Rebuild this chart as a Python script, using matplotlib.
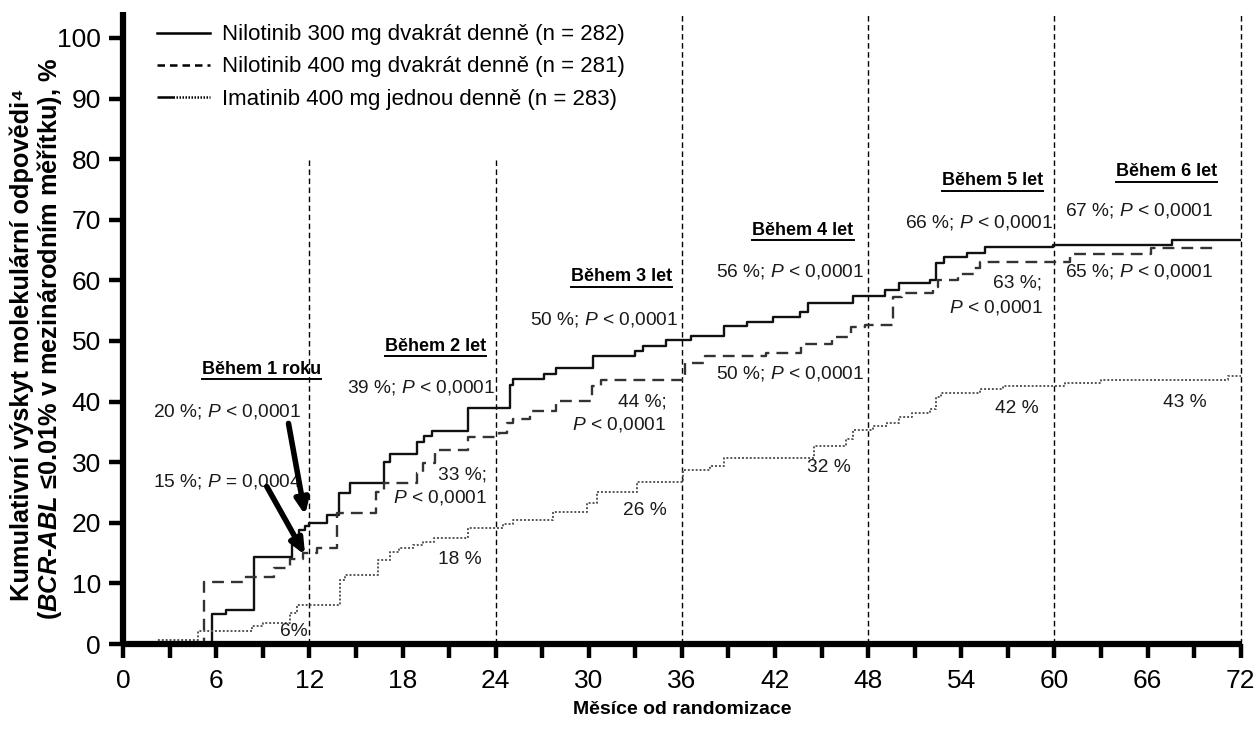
import matplotlib
matplotlib.use("Agg")
import matplotlib.pyplot as plt
from matplotlib import font_manager
from matplotlib.lines import Line2D

# ── DATA ───────────────────────────────────────────────────
# Nilotinib 300 mg dvakrát denně (kumulativní výskyt, %)
nil300_mesice = [0, 5.7, 6.6, 8.45, 10.9, 11.3, 11.7, 12.0, 13.1, 13.9, 14.6,
                 16.8, 17.2, 18.9, 19.4, 19.9, 22.2, 24.9, 25.1, 27.1, 27.9,
                 30.3, 33.0, 33.5, 35.0, 36.6, 38.7, 40.2, 41.9, 43.6, 44.1,
                 47.0, 49.1, 50.0, 52.0, 52.4, 52.9, 54.4, 55.5, 59.9, 67.6, 72]
nil300_pct = [0, 5.0, 5.7, 14.3, 16.9, 18.8, 19.4, 19.9, 21.3, 24.9, 26.5,
              30.1, 31.4, 33.3, 34.4, 35.2, 38.9, 42.7, 43.8, 44.6, 45.5,
              47.5, 48.4, 49.2, 50.2, 50.8, 52.5, 53.2, 54.0, 54.8, 56.2,
              57.4, 58.4, 59.5, 60.1, 62.9, 63.8, 64.5, 65.5, 65.8, 66.6, 66.6]

# Nilotinib 400 mg dvakrát denně
nil400_mesice = [0, 5.2, 7.75, 9.7, 10.75, 11.6, 12.5, 13.75, 16.3, 16.8,
                 18.9, 19.3, 20.1, 22.2, 24.2, 24.75, 25.1, 26.2, 27.9, 30.2,
                 30.8, 36.2, 37.5, 41.4, 43.7, 45.7, 46.9, 47.8, 49.6, 50.2,
                 52.2, 52.5, 53.8, 54.8, 55.2, 61.0, 66.2, 70.2]
nil400_pct = [0, 10.3, 11.1, 12.5, 14.1, 15.0, 15.8, 21.6, 25.1, 26.5,
              28.2, 29.8, 32.0, 34.1, 34.8, 36.4, 37.2, 38.4, 40.1, 42.5,
              43.6, 46.3, 47.5, 48.1, 49.5, 50.7, 52.3, 52.6, 57.3, 57.9,
              58.9, 60.1, 61.1, 62.0, 63.1, 64.4, 65.3, 65.3]

# Imatinib 400 mg jednou denně
ima_mesice = [0, 2.2, 4.85, 8.3, 9.0, 10.75, 11.2, 14.0, 14.3, 16.4, 17.2,
              17.8, 18.7, 19.3, 20.0, 22.2, 24.5, 25.1, 27.7, 29.9, 30.5,
              33.1, 36.1, 37.8, 38.7, 44.5, 46.6, 47.0, 48.3, 49.2, 50.0,
              50.8, 52.0, 52.4, 52.7, 55.2, 56.7, 60.7, 63.0, 71.2, 72]
ima_pct = [0, 0.6, 2.2, 2.9, 3.4, 5.1, 6.4, 10.6, 11.4, 13.9, 15.2,
           15.8, 16.3, 16.9, 17.5, 19.1, 19.8, 20.5, 21.8, 23.2, 25.1,
           26.8, 28.7, 29.3, 30.7, 32.6, 33.8, 35.3, 35.9, 36.4, 37.5,
           38.1, 38.7, 40.8, 41.5, 42.0, 42.5, 43.1, 43.6, 44.2, 44.2]

legenda = ["Nilotinib 300 mg dvakrát denně (n = 282)",
           "Nilotinib 400 mg dvakrát denně (n = 281)",
           "Imatinib 400 mg jednou denně (n = 283)"]

hranice_let = [12, 24, 36, 48, 60, 72]
nadpisy_let = ["Během 1 roku", "Během 2 let", "Během 3 let",
               "Během 4 let", "Během 5 let", "Během 6 let"]
# ───────────────────────────────────────────────────────────

plt.rcParams['font.family'] = ['Liberation Sans', 'DejaVu Sans']
plt.rcParams['mathtext.fontset'] = 'custom'
plt.rcParams['mathtext.rm'] = 'Liberation Sans'
plt.rcParams['mathtext.it'] = 'Liberation Sans:italic'
plt.rcParams['mathtext.bf'] = 'Liberation Sans:bold'
plt.rcParams['mathtext.bfit'] = 'Liberation Sans:italic:bold'


def uzke_pismo():
    try:
        font_manager.findfont('Liberation Sans Narrow', fallback_to_default=False)
        return ['Liberation Sans Narrow', 'Liberation Sans']
    except Exception:
        return ['Liberation Sans', 'DejaVu Sans']


UZKE = uzke_pismo()

fig = plt.figure(figsize=(12.57, 7.42), dpi=100)
ax = fig.add_axes([0.098, 0.132, 0.889, 0.852])

# křivky
ax.step(nil300_mesice, nil300_pct, where="post", color="#111111", lw=1.7)
ax.step(nil400_mesice, nil400_pct, where="post", color="#333333", lw=1.7,
        linestyle=(0, (5, 3)))
ax.step(ima_mesice, ima_pct, where="post", color="#555555", lw=1.4,
        linestyle=(0, (1, 1)))

# svislé hranice jednotlivých let
for m in hranice_let:
    horni = 80 if m <= 24 else 104.3
    ax.plot([m, m], [0, horni], color="black", lw=1.0,
            linestyle=(0, (4, 2.5)), clip_on=False, zorder=1)

ax.set_xlim(0, 72)
ax.set_ylim(0, 104.3)
for s in ["top", "right"]:
    ax.spines[s].set_visible(False)
for s in ["left", "bottom"]:
    ax.spines[s].set_linewidth(4.5)
    ax.spines[s].set_capstyle("butt")

ax.set_xticks(range(0, 73, 3))
ax.set_xticklabels([str(m) if m % 6 == 0 else "" for m in range(0, 73, 3)],
                   family=UZKE, fontsize=19)
ax.set_yticks(range(0, 101, 10))
ax.set_yticklabels([str(v) for v in range(0, 101, 10)], fontsize=19)
ax.tick_params(axis="x", length=10, width=3.2, pad=8, colors="black")
ax.tick_params(axis="y", length=10, width=3.2, pad=6, colors="black")

ax.set_xlabel("Měsíce od randomizace", family=UZKE, fontsize=14,
              fontweight="bold", labelpad=6)
fig.text(0.0175, 0.535, "Kumulativní výskyt molekulární odpovědi⁴",
         rotation=90, ha="center", va="center", fontsize=18.3, fontweight="bold")
fig.text(0.039, 0.543,
         r"($\mathbfit{BCR}$-$\mathbfit{ABL}$ ≤0.01% v mezinárodním měřítku), %",
         rotation=90, ha="center", va="center", fontsize=18.3, fontweight="bold")

# legenda
teckovana = (0, (7,) + (0.6,) * 61)
prvky = [Line2D([], [], color="black", lw=1.8),
         Line2D([], [], color="black", lw=1.8, linestyle=(0, (3, 2))),
         Line2D([], [], color="black", lw=1.8, linestyle=teckovana)]
ax.legend(prvky, legenda, loc="upper left", bbox_to_anchor=(0.012, 1.012),
          frameon=False, fontsize=16, handlelength=2.4, handletextpad=0.55,
          labelspacing=0.5)

# nadpisy let (tučně, podtržené)
nadpis_pozice = [(8.9, 45.3), (20.1, 49.1), (32.1, 60.6),
                 (43.8, 68.3), (56.0, 76.4), (67.2, 77.9)]
nadpisy = []
for txt, (x, y) in zip(nadpisy_let, nadpis_pozice):
    nadpisy.append(ax.text(x, y, txt, ha="center", va="center",
                           fontsize=13, fontweight="bold"))

# hodnoty v jednotlivých letech
popisky = [
    (1.93, 38.4, r"20 %; $\mathit{P}$ < 0,0001", "left"),
    (1.93, 26.9, r"15 %; $\mathit{P}$ = 0,0004", "left"),
    (11.9, 2.0, "6%", "right"),
    (14.4, 42.4, r"39 %; $\mathit{P}$ < 0,0001", "left"),
    (23.45, 27.9, "33 %;", "right"),
    (23.45, 24.1, r"$\mathit{P}$ < 0,0001", "right"),
    (21.7, 13.9, "18 %", "center"),
    (26.2, 53.6, r"50 %; $\mathit{P}$ < 0,0001", "left"),
    (35.0, 39.9, "44 %;", "right"),
    (35.0, 36.3, r"$\mathit{P}$ < 0,0001", "right"),
    (33.6, 22.1, "26 %", "center"),
    (38.2, 61.4, r"56 %; $\mathit{P}$ < 0,0001", "left"),
    (38.2, 44.6, r"50 %; $\mathit{P}$ < 0,0001", "left"),
    (45.5, 29.2, "32 %", "center"),
    (50.4, 69.6, r"66 %; $\mathit{P}$ < 0,0001", "left"),
    (59.2, 59.6, "63 %;", "right"),
    (59.3, 55.6, r"$\mathit{P}$ < 0,0001", "right"),
    (57.6, 38.8, "42 %", "center"),
    (60.7, 71.6, r"67 %; $\mathit{P}$ < 0,0001", "left"),
    (60.7, 61.4, r"65 %; $\mathit{P}$ < 0,0001", "left"),
    (68.4, 39.8, "43 %", "center"),
]
for x, y, txt, zarovnani in popisky:
    ax.text(x, y, txt, ha=zarovnani, va="center", fontsize=13.8, color="#1a1a1a")

# šipky k hodnotám po 1 roce
for (x0, y0), (x1, y1) in [((10.65, 36.4), (11.72, 21.3)),
                           ((9.25, 26.0), (11.72, 14.7))]:
    ax.annotate("", xy=(x1, y1), xytext=(x0, y0),
                arrowprops=dict(arrowstyle="-|>,head_length=0.9,head_width=0.4",
                                lw=4, color="black", shrinkA=0, shrinkB=0))

# podtržení nadpisů
fig.canvas.draw()
r = fig.canvas.get_renderer()
inv = fig.transFigure.inverted()
for t in nadpisy:
    bb = t.get_window_extent(renderer=r)
    (x0, y0), (x1, _) = inv.transform([(bb.x0, bb.y0 - 1.5), (bb.x1, bb.y0)])
    fig.add_artist(Line2D([x0, x1], [y0, y0], transform=fig.transFigure,
                          color="black", lw=1.4))

fig.savefig("out.png", dpi=100)
